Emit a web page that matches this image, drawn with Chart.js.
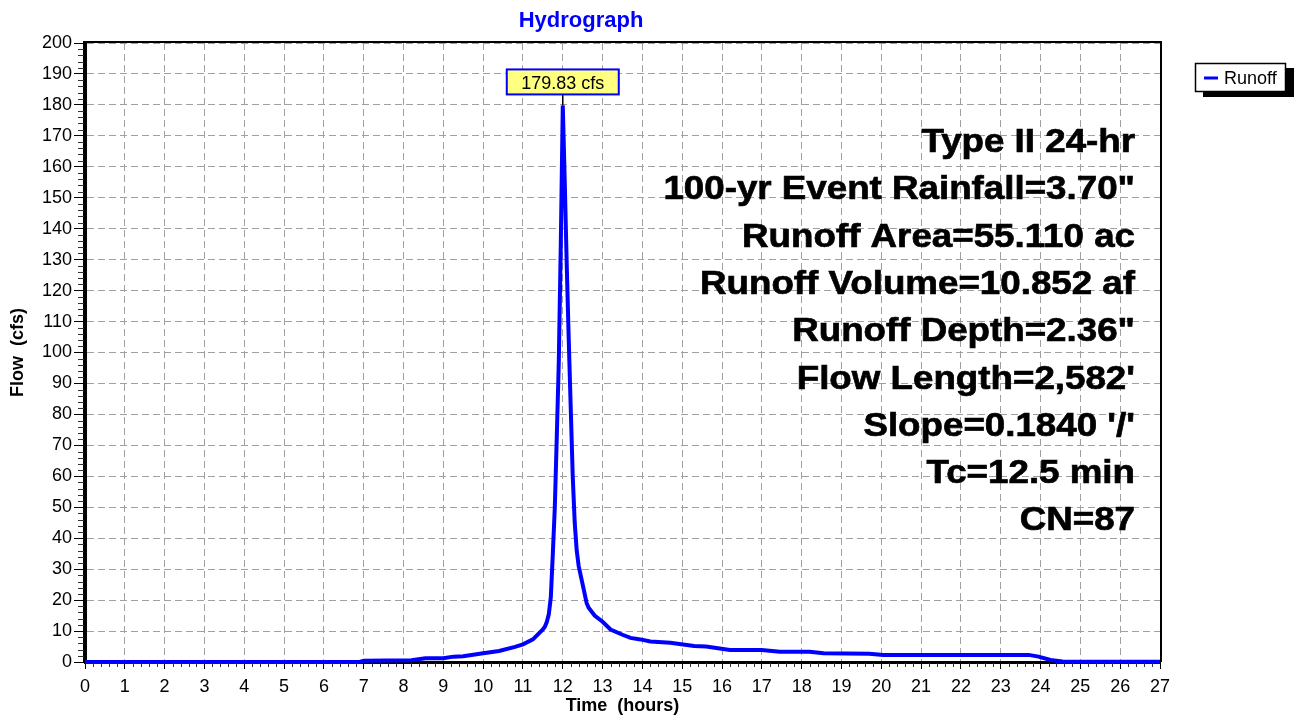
<!DOCTYPE html>
<html>
<head>
<meta charset="utf-8">
<script src="https://cdn.jsdelivr.net/npm/chart.js@4.4.0/dist/chart.umd.min.js"></script>
<style>
  body { margin: 0; background: #fff; }
  #wrap { width: 1294px; height: 717px; }
</style>
</head>
<body>
<div id="wrap"><canvas id="graficoHidrograma" width="1294" height="717"></canvas></div>
<script>
const tiempos = [0, 6.9, 7.0, 8.2, 8.55, 9.0, 9.25, 9.5, 10.0, 10.4, 10.8, 11.0, 11.25, 11.5, 11.55, 11.6, 11.65,
    11.7, 11.75, 11.8, 11.85, 11.9, 11.95, 12.0, 12.05, 12.1, 12.15, 12.2, 12.25, 12.3, 12.35, 12.4, 12.5,
    12.6, 12.65, 12.8, 13.0, 13.2, 13.5, 13.7, 13.95, 14.2, 14.7, 15.3, 15.6, 16.2, 17.0, 17.45, 18.2,
    18.55, 19.7, 20.05, 23.7, 23.95, 24.25, 24.55, 25.0, 27.0];
const caudales = [0, 0, 0.43, 0.54, 1.19, 1.25, 1.73, 1.85, 2.8, 3.56, 4.9, 5.7, 7.3, 10.5, 11.4, 13, 15.5,
    21, 35, 50, 73, 97, 135, 179.83, 155, 128, 104, 82, 60, 45, 36, 31, 25,
    19, 17.5, 15, 13, 10.5, 8.8, 7.8, 7.3, 6.6, 6.2, 5.2, 5.0, 3.9, 3.9, 3.3, 3.3,
    2.8, 2.7, 2.3, 2.3, 1.75, 0.65, 0.2, 0.05, 0.05];

const ticksX = [0, 1, 2, 3, 4, 5, 6, 7, 8, 9, 10, 11, 12, 13, 14, 15, 16, 17, 18, 19, 20, 21, 22, 23, 24, 25, 26, 27];
const ticksY = [0, 10, 20, 30, 40, 50, 60, 70, 80, 90, 100, 110, 120, 130, 140, 150, 160, 170, 180, 190, 200];

const lineasInfo = [
    'Type II 24-hr',
    '100-yr Event Rainfall=3.70"',
    'Runoff Area=55.110 ac',
    'Runoff Volume=10.852 af',
    'Runoff Depth=2.36"',
    "Flow Length=2,582'",
    "Slope=0.1840 '/'",
    'Tc=12.5 min',
    'CN=87'
];

const fuente = "Arial, 'Liberation Sans', sans-serif";

const decoraciones = {
    id: 'decoraciones',
    afterDraw(chart) {
        const ctx = chart.ctx;
        const area = chart.chartArea;
        const sx = chart.scales.x;
        const sy = chart.scales.y;
        ctx.save();

        // marco superior y derecho
        ctx.strokeStyle = '#000';
        ctx.lineWidth = 2;
        ctx.beginPath();
        ctx.moveTo(area.left, area.top - 1);
        ctx.lineTo(area.right + 1, area.top - 1);
        ctx.lineTo(area.right + 1, area.bottom);
        ctx.stroke();

        // ticks menores
        ctx.strokeStyle = '#333';
        ctx.lineWidth = 1;
        ctx.beginPath();
        for (let v = 2; v < 200; v += 2) {
            if (v % 10 === 0) continue;
            const py = Math.round(sy.getPixelForValue(v)) + 0.5;
            ctx.moveTo(area.left - 7, py);
            ctx.lineTo(area.left - 1, py);
        }
        for (let k = 1; k < 135; k++) {
            if (k % 5 === 0) continue;
            const px = Math.round(sx.getPixelForValue(k / 5)) + 0.5;
            ctx.moveTo(px, area.bottom + 1);
            ctx.lineTo(px, area.bottom + 5);
        }
        ctx.stroke();

        // titulo
        ctx.fillStyle = '#0000ff';
        ctx.font = 'bold 22px ' + fuente;
        ctx.textAlign = 'center';
        ctx.textBaseline = 'alphabetic';
        ctx.fillText('Hydrograph', 581, 27);

        // texto de resumen (un poco ensanchado y mas grueso como en el original)
        ctx.fillStyle = '#000';
        ctx.strokeStyle = '#000';
        ctx.lineWidth = 0.7;
        ctx.font = 'bold 34px ' + fuente;
        ctx.textAlign = 'right';
        lineasInfo.forEach((txt, i) => {
            ctx.save();
            ctx.translate(1135, 152 + i * 47.3);
            ctx.scale(1.08, 1);
            ctx.fillText(txt, 0, 0);
            ctx.strokeText(txt, 0, 0);
            ctx.restore();
        });

        // leyenda con sombra
        const ds = chart.data.datasets[0];
        ctx.fillStyle = '#000';
        ctx.fillRect(1203, 68, 91, 29);
        ctx.fillStyle = '#fff';
        ctx.fillRect(1195, 63, 91, 29);
        ctx.strokeStyle = '#000';
        ctx.lineWidth = 1.5;
        ctx.strokeRect(1195.5, 63.5, 90, 28);
        ctx.strokeStyle = ds.borderColor;
        ctx.lineWidth = 3;
        ctx.beginPath();
        ctx.moveTo(1204, 78);
        ctx.lineTo(1218, 78);
        ctx.stroke();
        ctx.fillStyle = '#000';
        ctx.font = '18px ' + fuente;
        ctx.textAlign = 'left';
        ctx.fillText(ds.label, 1224, 84);

        // etiqueta del pico
        let iMax = 0;
        caudales.forEach((q, i) => { if (q > caudales[iMax]) iMax = i; });
        const px = sx.getPixelForValue(tiempos[iMax]);
        const py = sy.getPixelForValue(caudales[iMax]);
        const cajaTop = py - 36;
        ctx.strokeStyle = '#000';
        ctx.lineWidth = 1.5;
        ctx.beginPath();
        ctx.moveTo(px, cajaTop + 25);
        ctx.lineTo(px, py);
        ctx.stroke();
        ctx.fillStyle = '#ffff80';
        ctx.fillRect(px - 56, cajaTop, 112, 25);
        ctx.strokeStyle = '#0000ff';
        ctx.lineWidth = 2;
        ctx.strokeRect(px - 56, cajaTop, 112, 25);
        ctx.fillStyle = '#000';
        ctx.font = '18px ' + fuente;
        ctx.textAlign = 'center';
        ctx.fillText(caudales[iMax].toFixed(2) + ' cfs', px, cajaTop + 20);

        ctx.restore();
    }
};

const ctx = document.getElementById('graficoHidrograma').getContext('2d');
new Chart(ctx, {
    type: 'line',
    data: {
        datasets: [{
            label: 'Runoff',
            data: tiempos.map((t, i) => ({ x: t, y: caudales[i] })),
            borderColor: '#0000ff',
            borderWidth: 4,
            pointRadius: 0,
            tension: 0,
            fill: false,
            clip: 6
        }]
    },
    options: {
        responsive: false,
        animation: false,
        layout: { padding: { top: 43, right: 134, bottom: 0, left: 0 } },
        plugins: {
            legend: { display: false },
            tooltip: { enabled: false }
        },
        scales: {
            x: {
                type: 'linear',
                min: 0,
                max: 27,
                afterBuildTicks: s => { s.ticks = ticksX.map(v => ({ value: v })); },
                afterFit: s => { s.height = 55; },
                grid: { color: '#a0a0a0', lineWidth: 1, tickLength: 7, tickColor: '#000', tickWidth: 1 },
                border: { color: '#000', width: 3, dash: [7, 4] },
                ticks: { color: '#000', font: { family: fuente, size: 18 }, padding: 7, maxRotation: 0, autoSkip: false },
                title: { display: true, text: 'Time  (hours)', color: '#000', font: { family: fuente, size: 18, weight: 'bold' }, padding: { top: 0, bottom: 0 } }
            },
            y: {
                type: 'linear',
                min: 0,
                max: 200,
                afterBuildTicks: s => { s.ticks = ticksY.map(v => ({ value: v })); },
                afterFit: s => { s.width = 85; },
                grid: { color: '#a0a0a0', lineWidth: 1, tickLength: 11, tickColor: '#000', tickWidth: 1 },
                border: { color: '#000', width: 4, dash: [7, 4] },
                ticks: { color: '#000', font: { family: fuente, size: 18 }, padding: 2, autoSkip: false },
                title: { display: true, text: 'Flow  (cfs)', color: '#000', font: { family: fuente, size: 18, weight: 'bold' }, padding: { top: 7, bottom: 0 } }
            }
        }
    },
    plugins: [decoraciones]
});
</script>
</body>
</html>
